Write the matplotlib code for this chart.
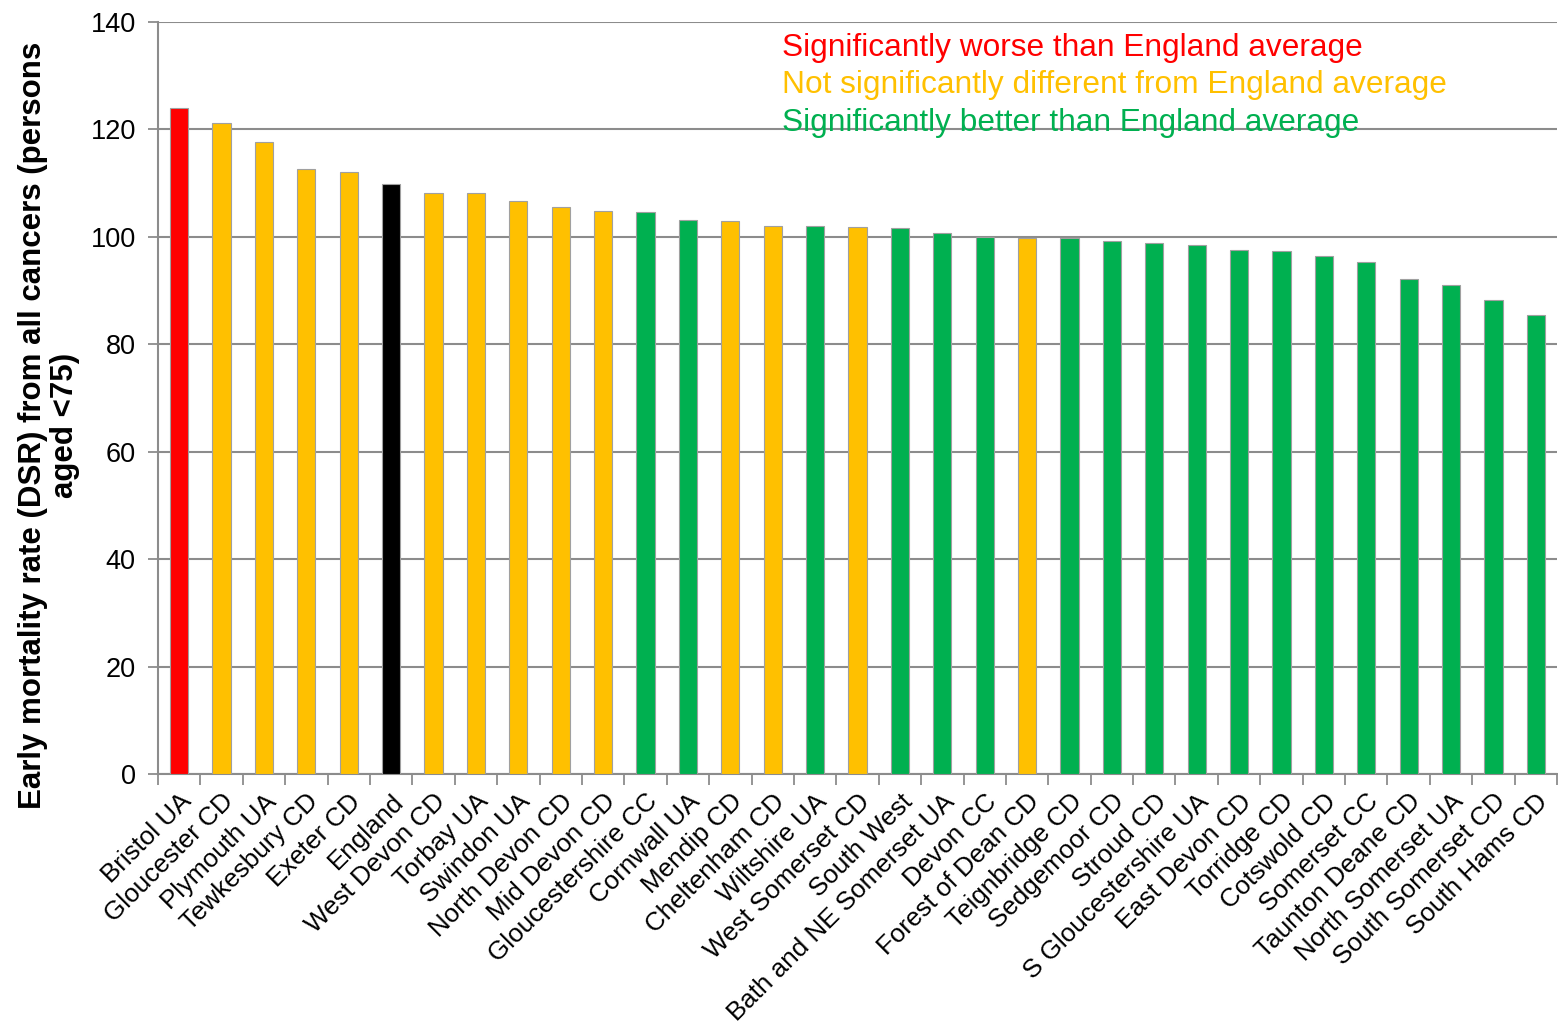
import matplotlib.pyplot as plt
import numpy as np

areas = ["Bristol UA", "Gloucester CD", "Plymouth UA", "Tewkesbury CD", "Exeter CD",
         "England", "West Devon CD", "Torbay UA", "Swindon UA", "North Devon CD",
         "Mid Devon CD", "Gloucestershire CC", "Cornwall UA", "Mendip CD", "Cheltenham CD",
         "Wiltshire UA", "West Somerset CD", "South West", "Bath and NE Somerset UA",
         "Devon CC", "Forest of Dean CD", "Teignbridge CD", "Sedgemoor CD", "Stroud CD",
         "S Gloucestershire UA", "East Devon CD", "Torridge CD", "Cotswold CD",
         "Somerset CC", "Taunton Deane CD", "North Somerset UA", "South Somerset CD",
         "South Hams CD"]
rates = [124.0, 121.2, 117.7, 112.7, 112.0, 109.9, 108.1, 108.1, 106.7, 105.5,
         104.9, 104.7, 103.2, 103.0, 102.1, 102.1, 101.9, 101.6, 100.7,
         99.9, 99.8, 99.8, 99.2, 98.9, 98.5, 97.6, 97.3, 96.5,
         95.4, 92.1, 91.1, 88.3, 85.5]
# w = worse, n = not different, b = better, e = England
status = ["w", "n", "n", "n", "n", "e", "n", "n", "n", "n",
          "n", "b", "b", "n", "n", "b", "n", "b", "b",
          "b", "n", "b", "b", "b", "b", "b", "b", "b",
          "b", "b", "b", "b", "b"]
legend_lines = ["Significantly worse than England average",
                "Not significantly different from England average",
                "Significantly better than England average"]

RED, AMBER, GREEN = "#FF0000", "#FFC000", "#00B050"
cmap = {"w": RED, "n": AMBER, "b": GREEN, "e": "#000000"}
colors = [cmap[s] for s in status]

plt.rcParams['font.family'] = ['Liberation Sans', 'DejaVu Sans']
grey = "#8c8c8c"

fig = plt.figure(figsize=(15.58, 10.30), dpi=100)
ax = fig.add_axes([0.1014, 0.2485, 0.898, 0.7301])

x = np.arange(len(areas))
ax.bar(x, rates, width=0.43, color=colors, edgecolor="#a0a0a0", linewidth=0.8, zorder=3)

ax.set_xlim(-0.5, len(areas) - 0.5)
ax.set_ylim(0, 140)
ax.set_yticks(np.arange(0, 141, 20))
ax.yaxis.grid(True, color=grey, linewidth=1.5, zorder=0)
ax.tick_params(axis='y', labelsize=19.5, length=7, width=1.3, color=grey, pad=9)

ax.set_xticks(x)
ax.set_xticklabels(areas, rotation=45, ha='right', rotation_mode='anchor', fontsize=18.7)
ax.set_xticks(np.arange(len(areas) + 1) - 0.5, minor=True)
ax.tick_params(axis='x', which='major', length=0, pad=11)
ax.tick_params(axis='x', which='minor', length=8, width=1.3, color=grey)

for side in ['top', 'right']:
    ax.spines[side].set_visible(False)
for side in ['left', 'bottom']:
    ax.spines[side].set_color(grey)
    ax.spines[side].set_linewidth(1.5)

fig.text(49 / 1558, 1 - 425 / 1030,
         "Early mortality rate (DSR) from all cancers (persons\naged <75)",
         fontsize=22.5, fontweight='bold', linespacing=1.05, rotation=90,
         ha='center', va='center', multialignment='center')

for i, (txt, c) in enumerate(zip(legend_lines, [RED, AMBER, GREEN])):
    fig.text(782 / 1558, 1 - (48 + 37.5 * i) / 1030, txt, color=c, fontsize=22.8,
             va='center', ha='left', zorder=5)

fig.savefig("out.png", dpi=100)
